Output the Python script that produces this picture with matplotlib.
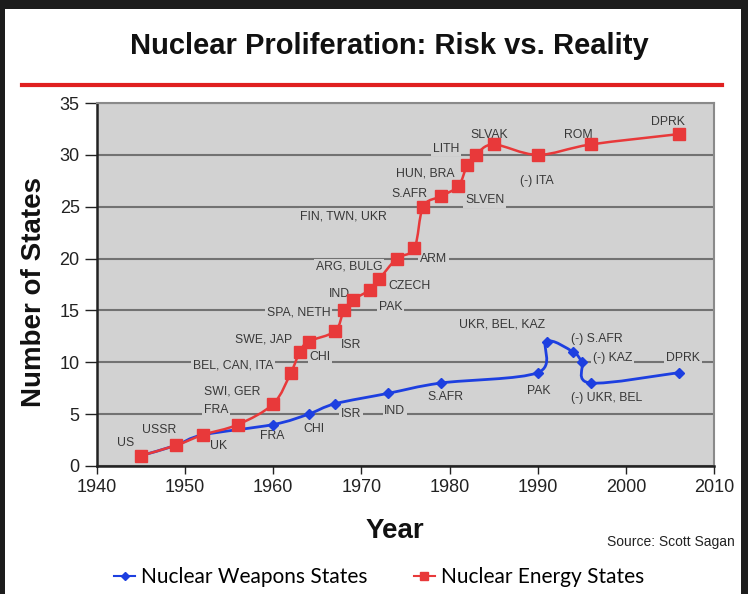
#!/usr/bin/env python3
"""
Nuclear Proliferation: Risk vs. Reality
Weapons states vs. energy states over time (source: Scott Sagan)
"""

import matplotlib
matplotlib.use("Agg")
import matplotlib.pyplot as plt
from matplotlib.path import Path
from matplotlib.patches import PathPatch, Rectangle
from matplotlib.lines import Line2D

plt.rcParams['font.family'] = ['Liberation Sans', 'DejaVu Sans']

# --- data ---
weapons_years = [1945, 1949, 1952, 1960, 1964, 1967, 1973, 1979, 1990, 1991, 1994, 1995, 1996, 2006]
weapons_counts = [1, 2, 3, 4, 5, 6, 7, 8, 9, 12, 11, 10, 8, 9]

energy_years = [1945, 1949, 1952, 1956, 1960, 1962, 1963, 1964, 1967, 1968, 1969, 1971,
                1972, 1974, 1976, 1977, 1979, 1981, 1982, 1983, 1985, 1990, 1996, 2006]
energy_counts = [1, 2, 3, 4, 6, 9, 11, 12, 13, 15, 16, 17,
                 18, 20, 21, 25, 26, 27, 29, 30, 31, 30, 31, 32]

energy_labels = ['US', 'USSR', 'UK', 'FRA', 'SWI, GER', 'BEL, CAN, ITA', 'SWE, JAP', 'CHI',
                 'ISR', 'SPA, NETH', 'IND', 'PAK', 'CZECH', 'ARG, BULG', 'ARM',
                 'FIN, TWN, UKR', 'S.AFR', 'SLVEN', 'HUN, BRA', 'LITH', 'SLVAK',
                 '(-) ITA', 'ROM', 'DPRK']
weapons_labels = ['FRA', 'CHI', 'ISR', 'IND', 'S.AFR', 'PAK', 'UKR, BEL, KAZ',
                  '(-) S.AFR', '(-) KAZ', '(-) UKR, BEL', 'DPRK']

# label placement (layout, data coords)
energy_label_pos = [(1943.2, 2.2), (1947.0, 3.5), (1953.8, 1.9), (1953.5, 5.4), (1955.3, 7.2),
                    (1955.4, 9.7), (1958.9, 12.2), (1965.3, 10.5), (1968.8, 11.7),
                    (1962.9, 14.8), (1967.5, 16.6), (1973.3, 15.3), (1975.5, 17.4),
                    (1968.6, 19.2), (1978.2, 20.0), (1968.0, 24.1), (1975.4, 26.2),
                    (1984.0, 25.6), (1977.2, 28.2), (1979.6, 30.6), (1984.5, 31.9),
                    (1989.9, 27.5), (1994.6, 31.9), (2004.8, 33.2)]
weapons_label_pos = [(1959.9, 2.9), (1964.6, 3.6), (1968.8, 5.0), (1973.8, 5.3),
                     (1979.5, 6.7), (1990.1, 7.2), (1986.0, 13.6), (1996.7, 12.2),
                     (1998.5, 10.4), (1997.8, 6.6), (2006.5, 10.4)]

BG = '#d2d2d2'
RED = '#e8393a'
BLUE = '#1d3fe0'


def smooth_path(xs, ys):
    """Excel-style smoothed line through the points (cubic Bezier segments)"""
    pts = list(zip(xs, ys))
    verts = [pts[0]]
    codes = [Path.MOVETO]
    n = len(pts)
    for i in range(n - 1):
        p0 = pts[i - 1] if i > 0 else pts[i]
        p1 = pts[i]
        p2 = pts[i + 1]
        p3 = pts[i + 2] if i + 2 < n else pts[i + 1]
        c1 = (p1[0] + (p2[0] - p0[0]) / 6, p1[1] + (p2[1] - p0[1]) / 6)
        c2 = (p2[0] - (p3[0] - p1[0]) / 6, p2[1] - (p3[1] - p1[1]) / 6)
        verts += [c1, c2, p2]
        codes += [Path.CURVE4] * 3
    return Path(verts, codes)


fig = plt.figure(figsize=(7.48, 5.94), dpi=100, facecolor='#1c1c1c')

# white slide on the dark frame
fig.patches.append(Rectangle((5 / 748, 0), 736 / 748, 1 - 9 / 594, transform=fig.transFigure,
                             facecolor='white', edgecolor='none', zorder=-5))

fig.text(0.521, 1 - 46 / 594, 'Nuclear Proliferation: Risk vs. Reality', ha='center', va='center',
         fontsize=21, fontweight='bold', color='#111111')
fig.add_artist(Line2D([22 / 748, 722 / 748], [1 - 85 / 594, 1 - 85 / 594], transform=fig.transFigure,
                      color='#e02020', linewidth=3))

ax = fig.add_axes([97 / 748, 1 - 466 / 594, 617 / 748, 363 / 594])
ax.set_facecolor(BG)
ax.set_xlim(1940, 2010)
ax.set_ylim(0, 35)
ax.set_xticks(range(1940, 2011, 10))
ax.set_yticks(range(0, 36, 5))
ax.set_axisbelow(True)
ax.yaxis.grid(True, color='#727272', linewidth=1.5)
ax.tick_params(labelsize=13, colors='#222222', length=6, width=1)
ax.tick_params(axis='y', length=9)
for side in ['left', 'bottom']:
    ax.spines[side].set_color('#222222')
    ax.spines[side].set_linewidth(1.8)
for side in ['top', 'right']:
    ax.spines[side].set_color('#8a8a8a')
    ax.spines[side].set_linewidth(1.5)

# smoothed lines + markers
ax.add_patch(PathPatch(smooth_path(weapons_years, weapons_counts), facecolor='none',
                       edgecolor=BLUE, linewidth=2, zorder=3))
ax.plot(weapons_years, weapons_counts, linestyle='none', marker='D', markersize=5.5,
        color=BLUE, zorder=4)
ax.add_patch(PathPatch(smooth_path(energy_years, energy_counts), facecolor='none',
                       edgecolor=RED, linewidth=1.8, zorder=5))
ax.plot(energy_years, energy_counts, linestyle='none', marker='s', markersize=8,
        color=RED, zorder=6)

box = dict(boxstyle='square,pad=0.15', facecolor=BG, edgecolor='none')
for name, (x, y) in zip(energy_labels + weapons_labels, energy_label_pos + weapons_label_pos):
    ax.text(x, y, name, ha='center', va='center', fontsize=8.8, color='#383838',
            bbox=box, zorder=2)

fig.text(0.045, 1 - 292 / 594, 'Number of States', rotation=90, ha='center', va='center',
         fontsize=20, fontweight='bold', color='#111111')
fig.text(395 / 748, 1 - 531 / 594, 'Year', ha='center', va='center',
         fontsize=20, fontweight='bold', color='#111111')
fig.text(735 / 748, 1 - 542 / 594, 'Source: Scott Sagan', ha='right', va='center',
         fontsize=10, color='#222222')

handles = [Line2D([], [], color=BLUE, marker='D', markersize=4, linewidth=1.5),
           Line2D([], [], color=RED, marker='s', markersize=6, linewidth=1.5)]
fig.legend(handles, ['Nuclear Weapons States', 'Nuclear Energy States'], loc='center',
           bbox_to_anchor=(0.507, 1 - 577 / 594), ncol=2, frameon=False, handlelength=1.0,
           handletextpad=0.3, columnspacing=2.2, prop={'family': 'Lato', 'size': 15})

fig.savefig('out.png', dpi=100, facecolor=fig.get_facecolor())
